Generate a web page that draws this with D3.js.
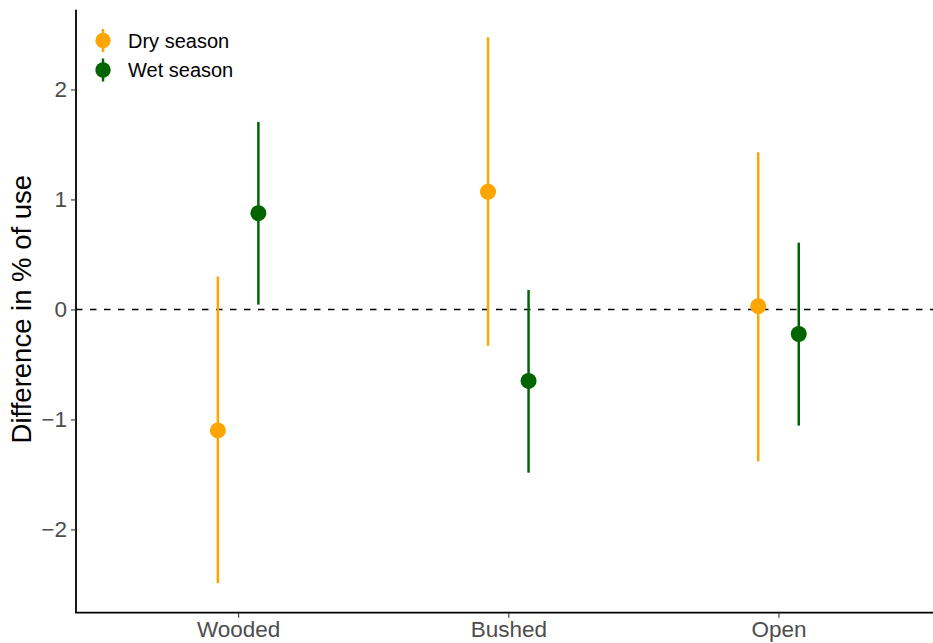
<!DOCTYPE html>
<html>
<head>
<meta charset="utf-8">
<script src="https://cdn.jsdelivr.net/npm/d3@7"></script>
<style>
  body { margin: 0; background: #fff; }
  svg { display: block; font-family: "Liberation Sans", Arial, sans-serif; }
</style>
</head>
<body>
<div id="chart"></div>
<script>
const categories = ["Wooded", "Bushed", "Open"];
const seasons = ["Dry season", "Wet season"];
const seasonColors = ["#FFA500", "#006400"];
const dryMean = [-1.10, 1.07, 0.03];
const dryLow = [-2.49, -0.33, -1.38];
const dryHigh = [0.30, 2.475, 1.43];
const wetMean = [0.875, -0.65, -0.223];
const wetLow = [0.044, -1.484, -1.056];
const wetHigh = [1.705, 0.177, 0.607];
const yTicks = [-2, -1, 0, 1, 2];
const yTitle = "Difference in % of use";

const W = 933, H = 643;
const svg = d3.select("#chart").append("svg").attr("width", W).attr("height", H);

const x = d3.scalePoint().domain(categories).range([76, 940.6]).padding(0.6);
const y = d3.scaleLinear().domain([-2.757, 2.725]).range([612.7, 9.7]);
const dodge = x.step() * 0.075;

const rows = [];
categories.forEach((c, i) => {
  rows.push({cat: c, s: 0, mean: dryMean[i], lo: dryLow[i], hi: dryHigh[i]});
  rows.push({cat: c, s: 1, mean: wetMean[i], lo: wetLow[i], hi: wetHigh[i]});
});
const px = d => x(d.cat) + (d.s === 0 ? -dodge : dodge);

// zero reference line
svg.append("line")
  .attr("x1", 76).attr("x2", W)
  .attr("y1", y(0)).attr("y2", y(0))
  .attr("stroke", "#000").attr("stroke-width", 1.6)
  .attr("stroke-dasharray", "6.5,7.5");

// error bars
svg.append("g").selectAll("line").data(rows).join("line")
  .attr("x1", px).attr("x2", px)
  .attr("y1", d => y(d.lo)).attr("y2", d => y(d.hi))
  .attr("stroke", d => seasonColors[d.s]).attr("stroke-width", 2.5);

// points
svg.append("g").selectAll("circle").data(rows).join("circle")
  .attr("cx", px).attr("cy", d => y(d.mean)).attr("r", 8)
  .attr("fill", d => seasonColors[d.s]);

// y axis
const yAxis = svg.append("g").attr("transform", "translate(76,0)")
  .call(d3.axisLeft(y).tickValues(yTicks).tickSize(5).tickPadding(4)
    .tickFormat(d => d < 0 ? "\u2212" + Math.abs(d) : String(d)));
yAxis.select(".domain").attr("stroke", "#000").attr("stroke-width", 1.8).attr("d", `M0,${y.range()[0]}V${y.range()[1]}`);
yAxis.selectAll(".tick line").attr("stroke", "#333").attr("stroke-width", 1.1);
yAxis.selectAll(".tick text").attr("fill", "#4D4D4D").attr("font-size", 22.5).attr("font-family", "Liberation Sans, Arial, sans-serif");

// x axis
const xAxis = svg.append("g").attr("transform", `translate(0,${y.range()[0]})`)
  .call(d3.axisBottom(x).tickSize(5).tickPadding(3));
xAxis.select(".domain").attr("stroke", "#000").attr("stroke-width", 1.8).attr("d", `M75.1,0H${W + 10}`);
xAxis.selectAll(".tick line").attr("stroke", "#333").attr("stroke-width", 1.1);
xAxis.selectAll(".tick text").attr("fill", "#4D4D4D").attr("font-size", 22.5).attr("font-family", "Liberation Sans, Arial, sans-serif");

// y title
svg.append("text")
  .attr("transform", `translate(30.5,${y(0) - 0.3}) rotate(-90)`)
  .attr("text-anchor", "middle")
  .attr("font-size", 27.5).attr("fill", "#000")
  .text(yTitle);

// legend
const leg = svg.append("g");
seasons.forEach((s, i) => {
  const cy = 40.5 + i * 29.5;
  leg.append("line").attr("x1", 103).attr("x2", 103).attr("y1", cy - 11.5).attr("y2", cy + 11.5)
    .attr("stroke", seasonColors[i]).attr("stroke-width", 2.5);
  leg.append("circle").attr("cx", 103).attr("cy", cy).attr("r", 7.7).attr("fill", seasonColors[i]);
  leg.append("text").attr("x", 128).attr("y", cy).attr("dy", "0.35em")
    .attr("font-size", 20).attr("fill", "#000").text(s);
});
</script>
</body>
</html>
